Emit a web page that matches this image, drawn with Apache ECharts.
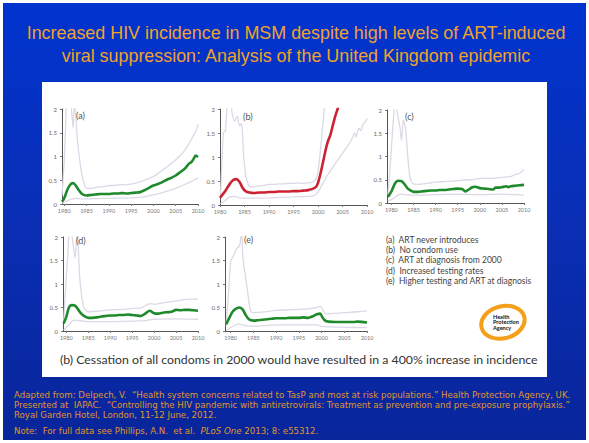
<!DOCTYPE html>
<html><head><meta charset="utf-8">
<script src="https://cdn.jsdelivr.net/npm/echarts@6/dist/echarts.min.js"></script>
<style>html,body{margin:0;padding:0;background:#fff}#c{width:589px;height:443px}</style>
</head><body><div id="c"></div>
<script>
// ---------- tick labels ----------
var yearTicks = [1980, 1985, 1990, 1995, 2000, 2005, 2010];
var panelNames = ['(a)', '(b)', '(c)', '(d)', '(e)'];
var legendLines = ['(a)  ART never introduces', '(b)  No condom use', '(c)  ART at diagnosis from 2000', '(d)  Increased testing rates', '(e)  Higher testing and ART at diagnosis'];

// ---------- panel (a) ART never introduced ----------
var aMid = [[1979.5,0.05],[1980,0.12],[1980.7,0.30],[1981.3,0.40],[1981.9,0.44],[1982.5,0.40],[1983.2,0.30],[1984,0.21],[1985,0.18],[1986,0.19],[1987,0.20],[1988,0.21],[1989,0.21],[1990,0.21],[1991,0.22],[1992,0.22],[1993,0.23],[1994,0.22],[1995,0.23],[1996,0.24],[1997,0.25],[1998,0.29],[1999,0.34],[2000,0.39],[2001,0.42],[2002,0.46],[2003,0.51],[2004,0.55],[2005,0.60],[2006,0.67],[2007,0.74],[2008,0.85],[2008.5,0.88],[2009,0.95],[2009.5,1.02],[2010,0.99]];
var aUp = [[1979.5,0.18],[1980,0.9],[1980.3,1.6],[1980.6,2.3],[1981.2,2.4],[1981.7,1.9],[1982,1.6],[1982.3,2.2],[1982.7,1.7],[1983,1.3],[1983.5,0.9],[1984,0.6],[1984.5,0.42],[1985,0.33],[1986,0.33],[1987,0.35],[1988,0.36],[1989,0.37],[1990,0.39],[1991,0.39],[1992,0.40],[1993,0.41],[1994,0.41],[1995,0.42],[1996,0.44],[1997,0.47],[1998,0.50],[1999,0.54],[2000,0.58],[2001,0.64],[2002,0.71],[2003,0.78],[2004,0.85],[2005,0.93],[2006,1.02],[2007,1.13],[2008,1.27],[2009,1.45],[2009.5,1.52],[2010,1.68]];
var aLow = [[1979.5,0.02],[1980.5,0.06],[1981.5,0.10],[1982.5,0.12],[1984,0.11],[1985,0.11],[1990,0.12],[1995,0.13],[1997,0.14],[1998,0.15],[2000,0.19],[2002,0.24],[2004,0.30],[2005,0.33],[2006,0.37],[2007,0.41],[2008,0.45],[2009,0.50],[2010,0.55]];

// ---------- panel (b) no condom use ----------
var bMid = [[1980,0.15],[1981,0.28],[1982,0.44],[1982.7,0.52],[1983.3,0.54],[1984,0.48],[1984.6,0.36],[1985.2,0.29],[1986,0.26],[1987,0.25],[1988,0.26],[1989,0.26],[1990,0.27],[1991,0.27],[1992,0.28],[1993,0.28],[1994,0.28],[1995,0.29],[1996,0.29],[1997,0.30],[1998,0.31],[1999,0.34],[1999.6,0.38],[2000,0.46],[2000.5,0.65],[2001,0.88],[2001.5,1.12],[2002,1.32],[2002.5,1.45],[2003,1.65],[2003.5,1.84],[2004,2.0],[2004.3,2.1]];
var bUp = [[1980.1,0.2],[1980.4,0.9],[1980.7,1.5],[1981.1,1.55],[1981.5,2.1],[1982,2.3],[1982.5,1.9],[1983,1.75],[1983.5,1.85],[1984,1.65],[1984.4,1.7],[1984.8,1.05],[1985.3,0.6],[1985.8,0.42],[1986.5,0.37],[1987,0.38],[1988,0.40],[1989,0.41],[1990,0.43],[1991,0.43],[1992,0.44],[1993,0.44],[1994,0.45],[1995,0.45],[1996,0.46],[1997,0.45],[1998,0.46],[1999,0.48],[1999.8,0.6],[2000.3,0.95],[2000.8,1.46],[2001.3,2.0],[2001.5,2.2]];
var bLow = [[1980.1,0.03],[1981,0.09],[1982,0.17],[1983,0.18],[1984,0.15],[1985,0.14],[1990,0.15],[1995,0.17],[1999,0.19],[2000,0.27],[2001,0.45],[2002,0.63],[2003,0.78],[2004,0.93],[2005,1.08],[2006,1.22],[2007,1.39],[2007.5,1.50],[2007.8,1.42],[2008.3,1.60],[2008.7,1.55],[2009.2,1.68],[2009.6,1.72],[2010,1.80]];

// ---------- panel (c) ART at diagnosis from 2000 ----------
var cMid = [[1979.2,0.13],[1980,0.25],[1980.8,0.42],[1981.5,0.48],[1982.3,0.47],[1983,0.40],[1983.7,0.31],[1984.5,0.26],[1985,0.24],[1986,0.24],[1987,0.25],[1988,0.26],[1989,0.27],[1990,0.27],[1991,0.28],[1992,0.28],[1993,0.29],[1994,0.30],[1995,0.31],[1996,0.30],[1996.8,0.25],[1997.5,0.29],[1998.3,0.34],[1999,0.35],[2000,0.32],[2001,0.31],[2002,0.30],[2003,0.29],[2003.6,0.33],[2004.5,0.33],[2005,0.34],[2006,0.36],[2006.5,0.34],[2007,0.36],[2008,0.37],[2009,0.38],[2010,0.39]];
var cUp = [[1979.2,0.18],[1979.8,0.9],[1980.3,1.6],[1980.9,2.2],[1981.4,1.9],[1981.9,1.65],[1982.3,1.35],[1982.7,1.78],[1983.2,1.6],[1983.7,1.0],[1984.2,0.55],[1984.8,0.42],[1986,0.40],[1988,0.42],[1990,0.45],[1992,0.46],[1995,0.48],[1997,0.50],[1998,0.50],[2000,0.53],[2002,0.53],[2004,0.54],[2005,0.55],[2007,0.57],[2008,0.61],[2009,0.64],[2010,0.72]];
var cLow = [[1979.2,0.04],[1980.5,0.10],[1982,0.19],[1983,0.18],[1985,0.17],[1990,0.18],[1995,0.19],[2000,0.18],[2005,0.19],[2008,0.18],[2010,0.17]];

// ---------- panel (d) increased testing rates ----------
var dMid = [[1979.4,0.16],[1980,0.30],[1980.6,0.50],[1981.2,0.55],[1982,0.54],[1982.6,0.47],[1983.3,0.38],[1984,0.32],[1985,0.28],[1986,0.28],[1987,0.29],[1988,0.31],[1989,0.32],[1990,0.33],[1991,0.33],[1992,0.34],[1993,0.34],[1994,0.35],[1995,0.34],[1996,0.33],[1997,0.32],[1998,0.37],[1999,0.43],[2000,0.38],[2001,0.37],[2002,0.39],[2003,0.40],[2004,0.41],[2005,0.45],[2006,0.44],[2007,0.45],[2008,0.45],[2009,0.44],[2010,0.43]];
var dUp = [[1979.4,0.2],[1979.9,1.0],[1980.3,1.55],[1980.8,2.3],[1981.5,1.9],[1982,1.55],[1982.5,2.2],[1983,1.2],[1983.5,0.75],[1984,0.5],[1985,0.41],[1987,0.42],[1990,0.45],[1993,0.46],[1995,0.48],[1997,0.49],[1999,0.58],[2000,0.57],[2002,0.60],[2005,0.64],[2008,0.68],[2010,0.68]];
var dLow = [[1979.4,0.02],[1980.5,0.12],[1981.8,0.23],[1983,0.22],[1985,0.20],[1990,0.20],[1995,0.21],[1998,0.22],[2000,0.25],[2005,0.26],[2010,0.25]];

// ---------- panel (e) higher testing and ART at diagnosis ----------
var eMid = [[1979,0.14],[1979.7,0.28],[1980.5,0.42],[1981.3,0.48],[1982,0.50],[1982.7,0.45],[1983.3,0.34],[1984,0.25],[1985,0.22],[1986,0.23],[1987,0.24],[1988,0.25],[1989,0.26],[1990,0.27],[1991,0.27],[1992,0.27],[1993,0.28],[1994,0.28],[1995,0.28],[1996,0.29],[1997,0.28],[1998,0.31],[1998.8,0.35],[1999.7,0.37],[2000.2,0.29],[2000.8,0.22],[2001.5,0.20],[2003,0.19],[2005,0.19],[2007,0.19],[2008,0.20],[2010,0.18]];
var eUp = [[1979,0.14],[1979.6,0.9],[1980,1.47],[1980.6,1.6],[1981.3,1.75],[1982,1.82],[1982.4,2.2],[1982.7,1.54],[1983.2,1.2],[1983.6,0.91],[1984.4,0.42],[1985,0.39],[1987,0.40],[1990,0.44],[1993,0.45],[1995,0.46],[1997,0.47],[1999,0.50],[1999.7,0.53],[2000.3,0.45],[2000.8,0.36],[2002,0.37],[2005,0.39],[2008,0.41],[2010,0.43]];
var eLow = [[1979,0.01],[1980.5,0.10],[1981.7,0.15],[1983,0.12],[1985,0.10],[1990,0.13],[1995,0.13],[1999,0.13],[2000,0.10],[2005,0.08],[2010,0.07]];

// ---------- layout / style ----------
var GREEN = '#1e8a2c', RED = '#cc2233', BAND = '#ddd8e6';
var panels = [
  {mid:aMid, up:aUp, low:aLow, col:GREEN, min:1979.5, g:{left:62, top:109, width:136, height:95}, lab:[76,116]},
  {mid:bMid, up:bUp, low:bLow, col:RED,   min:1980,   g:{left:220, top:109, width:147, height:96}, lab:[243,117]},
  {mid:cMid, up:cUp, low:cLow, col:GREEN, min:1979,   g:{left:387, top:110, width:137, height:93}, lab:[405,117]},
  {mid:dMid, up:dUp, low:dLow, col:GREEN, min:1979.25,g:{left:63, top:237, width:135, height:94}, lab:[76,241]},
  {mid:eMid, up:eUp, low:eLow, col:GREEN, min:1978.75,g:{left:225, top:237, width:142, height:94}, lab:[244,240]}
];

var grids = [], xAxes = [], yAxes = [], series = [];
panels.forEach(function (p, i) {
  grids.push(p.g);
  xAxes.push({type:'value', gridIndex:i, min:p.min, max:2010,
    axisLine:{lineStyle:{color:'#555', width:1}},
    axisTick:{show:true, length:2, lineStyle:{color:'#777'}, customValues:yearTicks},
    axisLabel:{fontSize:5.5, color:'#777', margin:4, customValues:yearTicks, fontFamily:'Lato',
      formatter:function (v) { return String(Math.round(v)); }},
    splitLine:{show:false}});
  yAxes.push({type:'value', gridIndex:i, min:0, max:2, interval:0.5,
    axisLine:{show:true, lineStyle:{color:'#555', width:1}},
    axisTick:{show:true, length:2, lineStyle:{color:'#777'}},
    axisLabel:{fontSize:6, color:'#666', margin:5, fontFamily:'Lato'},
    splitLine:{show:false}});
  [[p.up, BAND, 1.3], [p.low, BAND, 1.3], [p.mid, p.col, 2.6]].forEach(function (s) {
    series.push({type:'line', xAxisIndex:i, yAxisIndex:i, data:s[0], showSymbol:false,
      smooth:0.25, clip:true, silent:true, lineStyle:{color:s[1], width:s[2]}, z:s[2] > 2 ? 3 : 2});
  });
});

var FOOT = '#e0962a';
var graphics = [
  {type:'rect', shape:{x:0, y:0, width:589, height:443}, style:{fill:'#fff'}, z:-10, silent:true},
  {type:'rect', shape:{x:3, y:3, width:583, height:437}, silent:true, z:-9,
    style:{fill:{type:'linear', x:0, y:0, x2:0, y2:1, colorStops:[{offset:0, color:'#0034cf'}, {offset:0.5, color:'#0a2fb5'}, {offset:1, color:'#08259a'}]}}},
  {type:'rect', shape:{x:42, y:82, width:505, height:295}, style:{fill:'#fff'}, z:-8, silent:true},
  {type:'text', x:296, y:21, z:5, style:{text:'Increased HIV incidence in MSM despite high levels of ART-induced\nviral suppression: Analysis of the United Kingdom epidemic', fill:'#f0a22c', font:'17.9px "Liberation Sans", Arial, sans-serif', lineHeight:23.5, align:'center'}},
  {type:'text', x:60, y:353, z:5, style:{text:'(b) Cessation of all condoms in 2000 would have resulted in a 400% increase in incidence', fill:'#333', font:'12.3px Lato, sans-serif'}},
  {type:'text', x:14, y:390, z:5, style:{text:'Adapted from: Delpech, V.  \u201cHealth system concerns related to TasP and most at risk populations.\u201d Health Protection Agency, UK.\nPresented at  IAPAC.  \u201cControlling the HIV pandemic with antiretrovirals: Treatment as prevention and pre-exposure prophylaxis.\u201d\nRoyal Garden Hotel, London, 11-12 June, 2012.', fill:FOOT, font:'8.6px "DejaVu Sans", sans-serif', lineHeight:9.8}},
  {type:'text', x:14, y:426, z:5, style:{text:'{n|Note:  For full data see Phillips, A.N.  et al.  }{i|PLoS One}{n| 2013; 8: e55312.}', rich:{
    n:{fill:FOOT, font:'8.6px "DejaVu Sans", sans-serif'}, i:{fill:FOOT, font:'italic 8.6px "DejaVu Sans", sans-serif'}}}},
  {type:'ellipse', shape:{cx:503, cy:322, rx:22, ry:16}, rotation:0.25, originX:503, originY:322, z:5, silent:true, style:{fill:'none', stroke:'#f5a01a', lineWidth:4}},
  {type:'text', x:493, y:314, z:6, style:{text:'Health\nProtection\nAgency', fill:'#111', font:'bold 5.5px Lato, sans-serif', lineHeight:5.5}}
];
legendLines.forEach(function (t, k) {
  graphics.push({type:'text', x:386, y:235 + k * 10.4, z:5, style:{text:t, fill:'#444', font:'8.5px Lato, sans-serif'}});
});
panels.forEach(function (p, i) {
  graphics.push({type:'text', x:p.lab[0], y:p.lab[1] - 5, z:5, style:{text:panelNames[i], fill:'#555', font:'9px Lato, sans-serif'}});
});

var chart = echarts.init(document.getElementById('c'), null, {renderer:'svg'});
chart.setOption({
  animation:false,
  grid:grids, xAxis:xAxes, yAxis:yAxes, series:series, graphic:graphics
});
</script></body></html>
